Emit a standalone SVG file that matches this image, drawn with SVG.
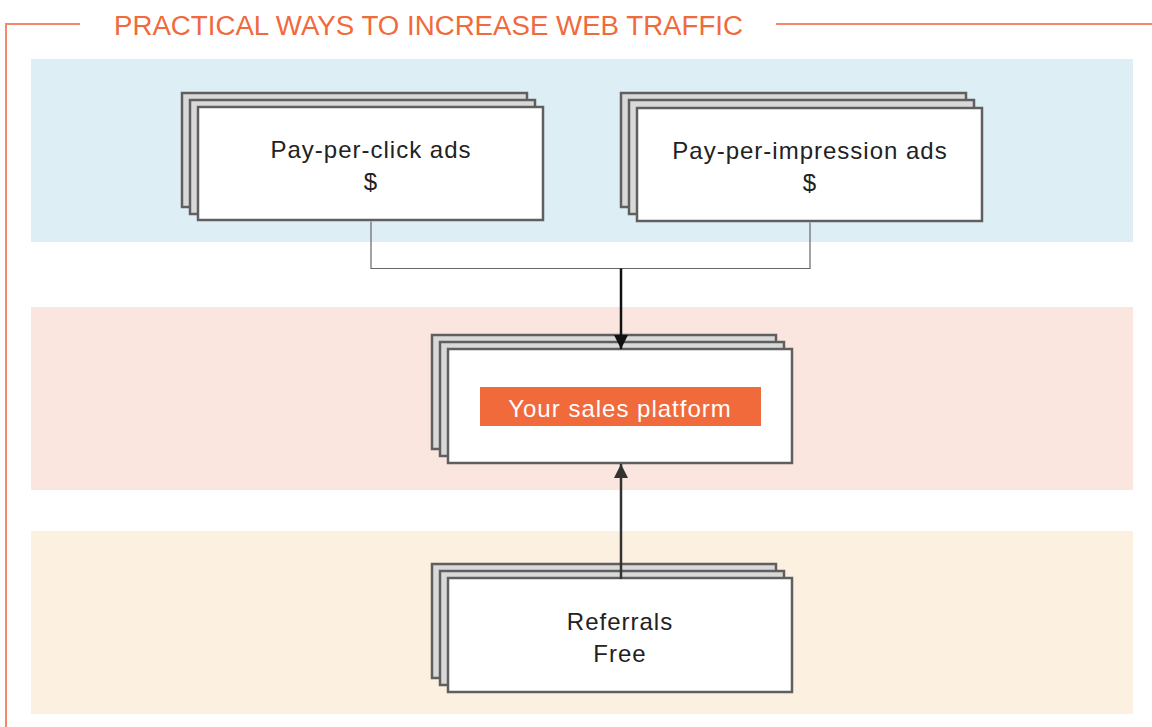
<svg xmlns="http://www.w3.org/2000/svg" width="1152" height="727" viewBox="0 0 1152 727">
<defs>
<style>
.card{fill:#fff;stroke:#5f5f5f;stroke-width:2.5}
.back{fill:#d9d9d9;stroke:#5f5f5f;stroke-width:2.5}
.lbl{font-family:"Liberation Sans",Arial,sans-serif;font-size:24px;fill:#222;text-anchor:middle;letter-spacing:1px}
.frame{stroke:#f4896a;stroke-width:2;fill:none}
</style>
<marker id="ahBlack" markerWidth="16" markerHeight="14" refX="14" refY="7" orient="auto" markerUnits="userSpaceOnUse">
<path d="M0,0 L14,7 L0,14 Z" fill="#111"/>
</marker>
<marker id="ahDark" markerWidth="16" markerHeight="14" refX="14" refY="7" orient="auto" markerUnits="userSpaceOnUse">
<path d="M0,0 L14,7 L0,14 Z" fill="#333"/>
</marker>
</defs>
<rect width="1152" height="727" fill="#fff"/>
<g id="frame">
<path class="frame" d="M80,24 H6 V727"/>
<path class="frame" d="M776,24 H1152"/>
<text x="114" y="35" font-family="'Liberation Sans',Arial,sans-serif" font-size="27" fill="#f06a3c" textLength="629" lengthAdjust="spacingAndGlyphs">PRACTICAL WAYS TO INCREASE WEB TRAFFIC</text>
</g>
<g id="bands">
<rect x="31" y="59" width="1102" height="183" fill="#deeef5"/>
<rect x="31" y="307" width="1102" height="183" fill="#fbe6df"/>
<rect x="31" y="531" width="1102" height="183" fill="#fcf1e0"/>
</g>
<g id="node-ppc">
<rect class="back" x="182" y="93" width="345" height="114"/>
<rect class="back" x="190" y="100" width="345" height="114"/>
<rect class="card" x="198" y="107" width="345" height="113"/>
<text class="lbl" x="371" y="158">Pay-per-click ads</text>
<text class="lbl" x="371" y="190">$</text>
</g>
<g id="node-ppi">
<rect class="back" x="621" y="93" width="345" height="114"/>
<rect class="back" x="629" y="100" width="345" height="114"/>
<rect class="card" x="637" y="108" width="345" height="113"/>
<text class="lbl" x="810" y="159">Pay-per-impression ads</text>
<text class="lbl" x="810" y="191">$</text>
</g>
<g id="node-platform">
<rect class="back" x="432" y="335" width="344" height="114"/>
<rect class="back" x="440" y="342" width="344" height="114"/>
<rect class="card" x="448" y="349" width="344" height="114"/>
<rect x="480" y="387" width="281" height="39" fill="#f06a3c"/>
<text class="lbl" x="620" y="417" style="fill:#fff">Your sales platform</text>
</g>
<g id="node-referrals">
<rect class="back" x="432" y="564" width="344" height="114"/>
<rect class="back" x="440" y="571" width="344" height="114"/>
<rect class="card" x="448" y="578" width="344" height="114"/>
<text class="lbl" x="620" y="630">Referrals</text>
<text class="lbl" x="620" y="662">Free</text>
</g>
<g id="connectors">
<path d="M371,221.5 V268.5 H810 V222.5" fill="none" stroke="#666" stroke-width="1.2"/>
<path d="M621,268.5 V349" fill="none" stroke="#111" stroke-width="2.5" marker-end="url(#ahBlack)"/>
<path d="M621,579 V464" fill="none" stroke="#333" stroke-width="2.5" marker-end="url(#ahDark)"/>
</g>
</svg>
